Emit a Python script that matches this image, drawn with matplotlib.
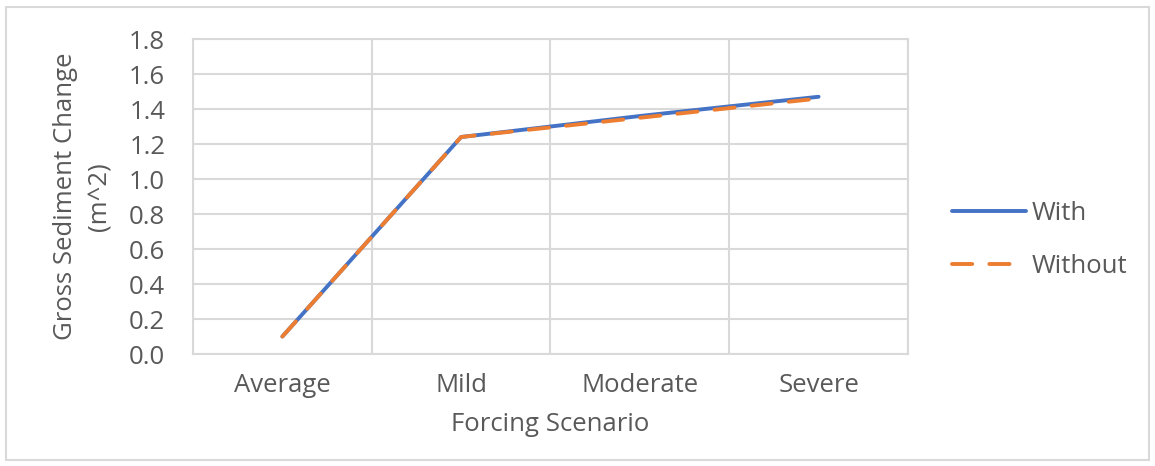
import numpy as np
import matplotlib.pyplot as plt
from matplotlib.patches import Rectangle

plt.rcParams['font.family'] = ['Open Sans', 'DejaVu Sans']

scenarios = ['Average', 'Mild', 'Moderate', 'Severe']
with_vals = [0.10, 1.24, 1.36, 1.47]
without_vals = [0.10, 1.24, 1.35, 1.46]
yticks = [0.0, 0.2, 0.4, 0.6, 0.8, 1.0, 1.2, 1.4, 1.6, 1.8]

txt = '#595959'
grid = '#d9d9d9'
fs = 18.5

fig = plt.figure(figsize=(11.55, 4.66), dpi=100)
ax = fig.add_axes([0.1671, 0.2403, 0.7861 - 0.1671, 0.9163 - 0.2403])

x = np.arange(len(scenarios))
ax.plot(x, with_vals, color='#4472C4', lw=2.8, solid_capstyle='round', label='With', zorder=3)
ax.plot(x, without_vals, color='#ED7D31', lw=2.8, linestyle=(0, (5.2, 4.4)),
        dash_capstyle='round', label='Without', zorder=4)

ax.set_xlim(-0.5, 3.5)
ax.set_ylim(0, 1.8)
ax.set_yticks(yticks)
ax.set_yticklabels(['%.1f' % v for v in yticks])
ax.set_xticks(x)
ax.set_xticklabels(scenarios)
ax.set_xticks(np.arange(-0.5, 3.6, 1), minor=True)

ax.grid(axis='y', which='major', color=grid, lw=1.5)
ax.grid(axis='x', which='minor', color=grid, lw=1.5)
ax.set_axisbelow(True)
for s in ax.spines.values():
    s.set_color(grid)
    s.set_linewidth(1.5)

ax.tick_params(axis='both', which='both', length=0, colors=txt, labelsize=fs)
ax.tick_params(axis='y', pad=20)
ax.tick_params(axis='x', pad=14)

ax.set_xlabel('Forcing Scenario', color=txt, fontsize=fs, labelpad=10)
ax.set_ylabel('Gross Sediment Change\n(m^2)', color=txt, fontsize=fs, labelpad=12,
              linespacing=1.5)

leg = ax.legend(loc='center left', bbox_to_anchor=(0.804, 0.485),
                bbox_transform=fig.transFigure, frameon=False,
                fontsize=fs, labelcolor=txt, handlelength=2.9, handletextpad=0.2,
                labelspacing=1.1)

fig.patches.append(Rectangle((0.005, 0.013), 0.99, 0.972, transform=fig.transFigure,
                             fill=False, edgecolor=grid, lw=1.5))

fig.savefig('out.png', dpi=100)
